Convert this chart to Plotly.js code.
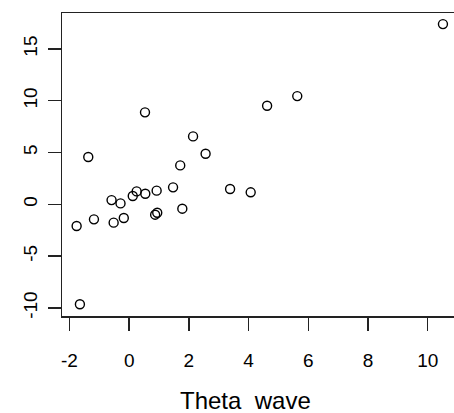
<!DOCTYPE html>
<html>
<head>
<meta charset="utf-8">
<script src="https://cdn.plot.ly/plotly-3.0.1.min.js"></script>
<style>html,body{margin:0;padding:0;background:#fff;}#chart{width:454px;height:413px;}</style>
</head>
<body>
<div id="chart"></div>
<script>
var thetaWave = [-1.76, -1.37, -1.18, -1.65, -0.59, -0.52, -0.29, -0.18, 0.12, 0.25, 0.54, 0.53, 0.92, 0.87, 0.94, 1.47, 1.71, 1.78, 2.14, 2.56, 3.38, 4.07, 4.62, 5.63, 10.51];
var yValues   = [-2.09, 4.57, -1.45, -9.65, 0.41, -1.77, 0.09, -1.32, 0.80, 1.25, 1.02, 8.88, 1.32, -1.00, -0.81, 1.64, 3.76, -0.42, 6.56, 4.88, 1.48, 1.16, 9.52, 10.45, 17.40];
var xTicks = [-2, 0, 2, 4, 6, 8, 10];
var yTicks = [-10, -5, 0, 5, 10, 15];
var xTitle = 'Theta  wave';

var trace = {
  x: thetaWave, y: yValues, type: 'scatter', mode: 'markers',
  marker: {symbol: 'circle-open', size: 9, color: '#000', line: {width: 1.4, color: '#000'}},
  hoverinfo: 'none'
};
var font = {family: 'Liberation Sans, Arial, sans-serif', color: '#000'};
var layout = {
  width: 454, height: 413,
  margin: {l: 62, r: 0, t: 13, b: 97, pad: 0},
  paper_bgcolor: '#fff', plot_bgcolor: '#fff',
  showlegend: false,
  xaxis: {
    range: [-2.25, 10.88], tickvals: xTicks, ticktext: xTicks.map(String),
    showgrid: false, zeroline: false, showline: true, mirror: true,
    linecolor: '#222', linewidth: 1.5,
    ticks: 'outside', ticklen: 13, tickwidth: 1.5, tickcolor: '#222',
    tickfont: Object.assign({size: 19}, font), ticklabelstandoff: 14,
    automargin: false
  },
  yaxis: {
    range: [-10.78, 18.47], tickvals: yTicks, ticktext: yTicks.map(String),
    showgrid: false, zeroline: false, showline: true, mirror: false,
    linecolor: '#222', linewidth: 1.5,
    ticks: 'outside', ticklen: 13, tickwidth: 1.5, tickcolor: '#222',
    tickangle: -90,
    tickfont: Object.assign({size: 19}, font), ticklabelstandoff: 3,
    automargin: false
  },
  annotations: [{
    text: xTitle, xref: 'paper', yref: 'paper', x: 0.469, y: -0.2805,
    xanchor: 'center', yanchor: 'middle', showarrow: false,
    font: Object.assign({size: 24}, font)
  }]
};
Plotly.newPlot('chart', [trace], layout, {staticPlot: true, displayModeBar: false});
</script>
</body>
</html>
